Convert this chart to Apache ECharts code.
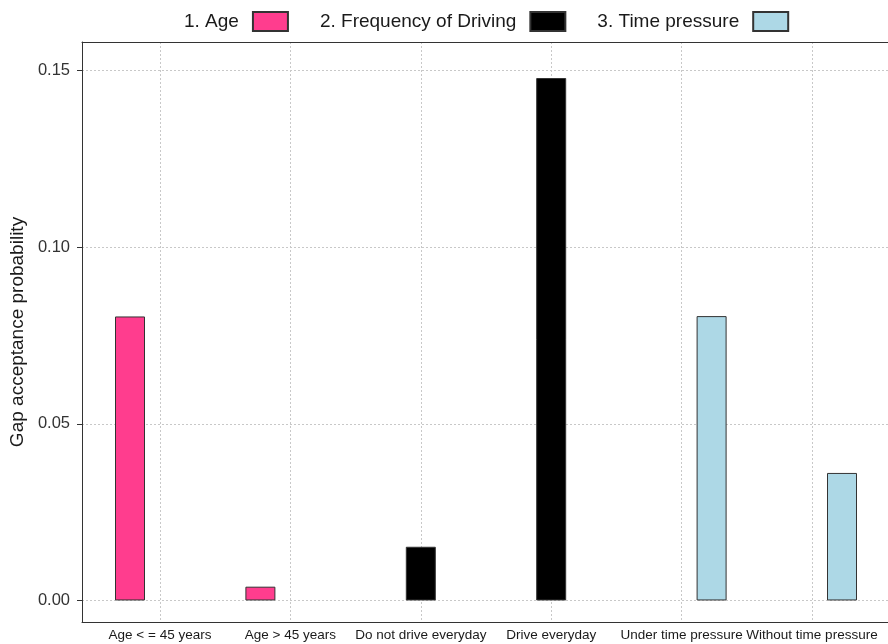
<!DOCTYPE html>
<html>
<head>
<meta charset="utf-8">
<script src="https://cdn.jsdelivr.net/npm/echarts@6/dist/echarts.min.js"></script>
<style>
html,body{margin:0;padding:0;background:#fff;}
#chart{width:888px;height:644px;}
</style>
</head>
<body>
<div id="chart"></div>
<script>
const categories = ['Age < = 45 years', 'Age > 45 years', 'Do not drive everyday', 'Drive everyday', 'Under time pressure', 'Without time pressure'];
const seriesNames = ['1. Age', '2. Frequency of Driving', '3. Time pressure'];
const ageValues = [0.0804, 0.0039, null, null, null, null];
const freqValues = [null, null, 0.0152, 0.1479, null, null];
const timeValues = [null, null, null, null, 0.0805, 0.0361];
const colors = ['#FF3D8E', '#000000', '#ADD8E6'];

const yMin = -0.0061, yMax = 0.1581;
const font = 'Liberation Sans, Arial, sans-serif';

const chart = echarts.init(document.getElementById('chart'), null, {renderer: 'canvas'});

function barSeries(name, data, color) {
  return {
    name: name, type: 'bar', data: data,
    xAxisIndex: 2, yAxisIndex: 1,
    barWidth: 30, barGap: '0%', clip: false,
    itemStyle: {color: color, borderColor: '#333', borderWidth: 1},
    emphasis: {disabled: true}
  };
}

const borderLine = {show: true, onZero: false, lineStyle: {color: '#333', width: 1}};

chart.setOption({
  animation: false,
  backgroundColor: '#fff',
  textStyle: {fontFamily: font},
  legend: {
    top: 6, left: 179, width: 700, orient: 'horizontal',
    itemWidth: 35, itemHeight: 19, itemGap: 31,
    align: 'right', icon: 'rect',
    textStyle: {fontSize: 19, color: '#1a1a1a', fontFamily: font, padding: [0, 9, 0, 0]},
    data: seriesNames
  },
  grid: [
    {left: 82, top: 42, right: -3, bottom: 22, show: false},
    {left: 160, top: 42, right: 76, bottom: 22}
  ],
  xAxis: [
    {gridIndex: 0, type: 'value', min: 0, max: 1, position: 'bottom',
      axisLine: borderLine, axisTick: {show: false}, axisLabel: {show: false}, splitLine: {show: false}},
    {gridIndex: 0, type: 'value', min: 0, max: 1, position: 'top',
      axisLine: borderLine, axisTick: {show: false}, axisLabel: {show: false}, splitLine: {show: false}},
    {
      gridIndex: 1, type: 'category', data: categories, boundaryGap: false,
      axisLine: {show: false}, axisTick: {show: false},
      axisLabel: {interval: 0, fontSize: 13.5, color: '#1a1a1a', margin: 6, fontFamily: font},
      splitLine: {show: true, lineStyle: {color: '#c8c8c8', type: [2, 2], width: 1}}
    }
  ],
  yAxis: [
    {
      gridIndex: 0, type: 'value', min: yMin, max: yMax,
      splitNumber: 3, minInterval: 0.05, maxInterval: 0.05,
      name: 'Gap acceptance probability', nameLocation: 'middle', nameGap: 46,
      nameTextStyle: {fontSize: 19, color: '#1a1a1a', fontFamily: font},
      axisLine: borderLine,
      axisTick: {show: true, length: 5, lineStyle: {color: '#333'}},
      axisLabel: {fontSize: 16.5, color: '#333', margin: 12, showMinLabel: false, showMaxLabel: false,
        formatter: v => v.toFixed(2), fontFamily: font},
      splitLine: {show: true, lineStyle: {color: '#c8c8c8', type: [2, 2], width: 1}}
    },
    {gridIndex: 1, type: 'value', min: yMin, max: yMax, show: false, splitLine: {show: false}}
  ],
  series: [
    barSeries(seriesNames[0], ageValues, colors[0]),
    barSeries(seriesNames[1], freqValues, colors[1]),
    barSeries(seriesNames[2], timeValues, colors[2])
  ]
});
</script>
</body>
</html>
